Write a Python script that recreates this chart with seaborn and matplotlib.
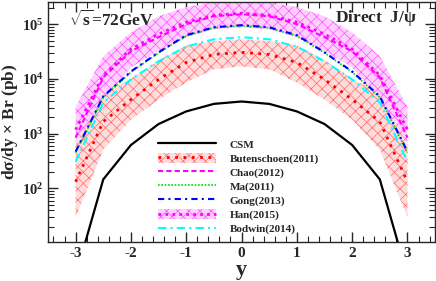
import matplotlib
matplotlib.use('Agg')
import matplotlib.pyplot as plt
from matplotlib.lines import Line2D
from matplotlib.patches import Patch
from matplotlib.ticker import AutoMinorLocator, LogLocator, NullFormatter
import seaborn as sns

sns.set_style('ticks')
plt.rcParams['font.family'] = ['Liberation Serif', 'DejaVu Serif']
plt.rcParams['font.weight'] = 'bold'
plt.rcParams['mathtext.fontset'] = 'custom'
plt.rcParams['mathtext.rm'] = 'Liberation Serif:bold'
plt.rcParams['mathtext.it'] = 'Liberation Serif:bold'
plt.rcParams['mathtext.bf'] = 'Liberation Serif:bold'
plt.rcParams['hatch.linewidth'] = 0.5

# rapidity grid
y = [-3, -2.5, -2, -1.5, -1, -0.5, 0, 0.5, 1, 1.5, 2, 2.5, 3]

csm = [2.5, 146, 620, 1500, 2550, 3500, 3870, 3500, 2550, 1500, 620, 146, 2.5]
buten = [132, 1660, 4200, 9800, 2.0e4, 2.8e4, 3.06e4, 2.8e4, 2.0e4, 9800, 4200, 1660, 132]
buten_hi = [630, 5400, 1.0e4, 2.2e4, 4.1e4, 4.9e4, 5.3e4, 4.9e4, 4.1e4, 2.2e4, 1.0e4, 5400, 630]
buten_lo = [30, 510, 1800, 4200, 8600, 1.5e4, 1.7e4, 1.5e4, 8600, 4200, 1800, 510, 30]
chao = [845, 1.07e4, 3.2e4, 5.8e4, 1.0e5, 1.4e5, 1.52e5, 1.4e5, 1.0e5, 5.8e4, 3.2e4, 1.07e4, 845]
ma = [450, 4600, 1.33e4, 3.0e4, 6.1e4, 8.6e4, 9.4e4, 8.6e4, 6.1e4, 3.0e4, 1.33e4, 4600, 450]
gong = [470, 4800, 1.37e4, 3.06e4, 6.3e4, 8.8e4, 9.6e4, 8.8e4, 6.3e4, 3.06e4, 1.37e4, 4800, 470]
han = [1180, 1.16e4, 3.5e4, 6.6e4, 1.09e5, 1.46e5, 1.59e5, 1.46e5, 1.09e5, 6.6e4, 3.5e4, 1.16e4, 1180]
han_hi = [3100, 2.6e4, 7.1e4, 1.4e5, 2.05e5, 2.5e5, 2.75e5, 2.5e5, 2.05e5, 1.4e5, 7.1e4, 2.6e4, 3100]
han_lo = [680, 4200, 1.63e4, 3.2e4, 5.8e4, 8.1e4, 8.8e4, 8.1e4, 5.8e4, 3.2e4, 1.63e4, 4200, 680]
bodwin = [306, 3700, 9800, 2.1e4, 3.9e4, 5.3e4, 5.8e4, 5.3e4, 3.9e4, 2.1e4, 9800, 3700, 306]

red_band = dict(facecolor='#ffdcdc', edgecolor='#ff6a6a', hatch='xxx', linewidth=0)
mag_band = dict(facecolor='#ffd0ff', edgecolor='#ff50ff', hatch='xxx', linewidth=0)

fig = plt.figure(figsize=(4.36, 2.81), dpi=100)
ax = fig.add_axes([0.110, 0.139, 0.888, 0.854])

# uncertainty bands
ax.fill_between(y, buten_lo, buten_hi, **red_band)
ax.fill_between(y, han_lo, han_hi, **mag_band)

sns.lineplot(x=y, y=csm, ax=ax, color='black', lw=1.6)
sns.lineplot(x=y, y=buten, ax=ax, color='red', lw=2, linestyle=(0, (1, 2)))
sns.lineplot(x=y, y=chao, ax=ax, color='magenta', lw=1.5, linestyle=(0, (2.5, 1.5)))
sns.lineplot(x=y, y=ma, ax=ax, color='#00dd00', lw=1.2, linestyle=(0, (1, 1)))
sns.lineplot(x=y, y=gong, ax=ax, color='blue', lw=1.5, linestyle=(0, (3, 2, 1, 2)))
sns.lineplot(x=y, y=han, ax=ax, color='magenta', lw=2, linestyle=(0, (1, 1.5)))
sns.lineplot(x=y, y=bodwin, ax=ax, color='cyan', lw=1.5, linestyle=(0, (4, 2, 1, 2)))

ax.set_yscale('log')
ax.set_xlim(-3.5, 3.5)
ax.set_ylim(10.5, 2.55e5)
ax.xaxis.set_minor_locator(AutoMinorLocator(5))
ax.yaxis.set_major_locator(LogLocator(base=10))
ax.yaxis.set_minor_locator(LogLocator(base=10, subs=range(2, 10)))
ax.yaxis.set_minor_formatter(NullFormatter())
ax.tick_params(which='both', direction='in', top=True, right=True, labelsize=11)
ax.tick_params(axis='y', labelsize=10.5, pad=3)
ax.tick_params(which='major', length=7, width=1)
ax.tick_params(which='minor', length=4, width=0.8)
ax.set_xticks([-3, -2, -1, 0, 1, 2, 3])
ax.set_xticklabels(['-3', '-2', '-1', '0', '1', '2', '3'])
for s in ax.spines.values():
    s.set_linewidth(1)

ax.set_xlabel('y', fontsize=16, fontweight='bold', labelpad=0)
ax.set_ylabel(r'd$\sigma$/dy $\times$ Br (pb)', fontsize=12.5, fontweight='bold')
ax.yaxis.set_label_coords(-0.072, 0.5)

ax.text(0.055, 0.925, r'$\sqrt{\rm s}$=72GeV', transform=ax.transAxes, fontsize=12.5,
        fontweight='bold', va='center')
ax.text(0.955, 0.935, r'Direct  J/$\psi$', transform=ax.transAxes, fontsize=12.5,
        fontweight='bold', va='center', ha='right')

handles = [
    Line2D([], [], color='black', lw=1.6),
    (Patch(**red_band), Line2D([], [], color='red', lw=2, linestyle=(0, (1, 2)))),
    Line2D([], [], color='magenta', lw=1.5, linestyle=(0, (2.5, 1.5))),
    Line2D([], [], color='#00dd00', lw=1.2, linestyle=(0, (1, 1))),
    Line2D([], [], color='blue', lw=1.5, linestyle=(0, (3, 2, 1, 2))),
    (Patch(**mag_band), Line2D([], [], color='magenta', lw=2, linestyle=(0, (1, 1.5)))),
    Line2D([], [], color='cyan', lw=1.5, linestyle=(0, (4, 2, 1, 2))),
]
labels = ['CSM', 'Butenschoen(2011)', 'Chao(2012)', 'Ma(2011)', 'Gong(2013)',
          'Han(2015)', 'Bodwin(2014)']
ax.legend(handles, labels, loc='upper left', bbox_to_anchor=(0.285, 0.43),
          frameon=False, fontsize=8, handlelength=5.2, handleheight=1.0,
          labelspacing=0.28, handletextpad=1.2, borderaxespad=0, borderpad=0)

fig.savefig('out.png', dpi=100)
